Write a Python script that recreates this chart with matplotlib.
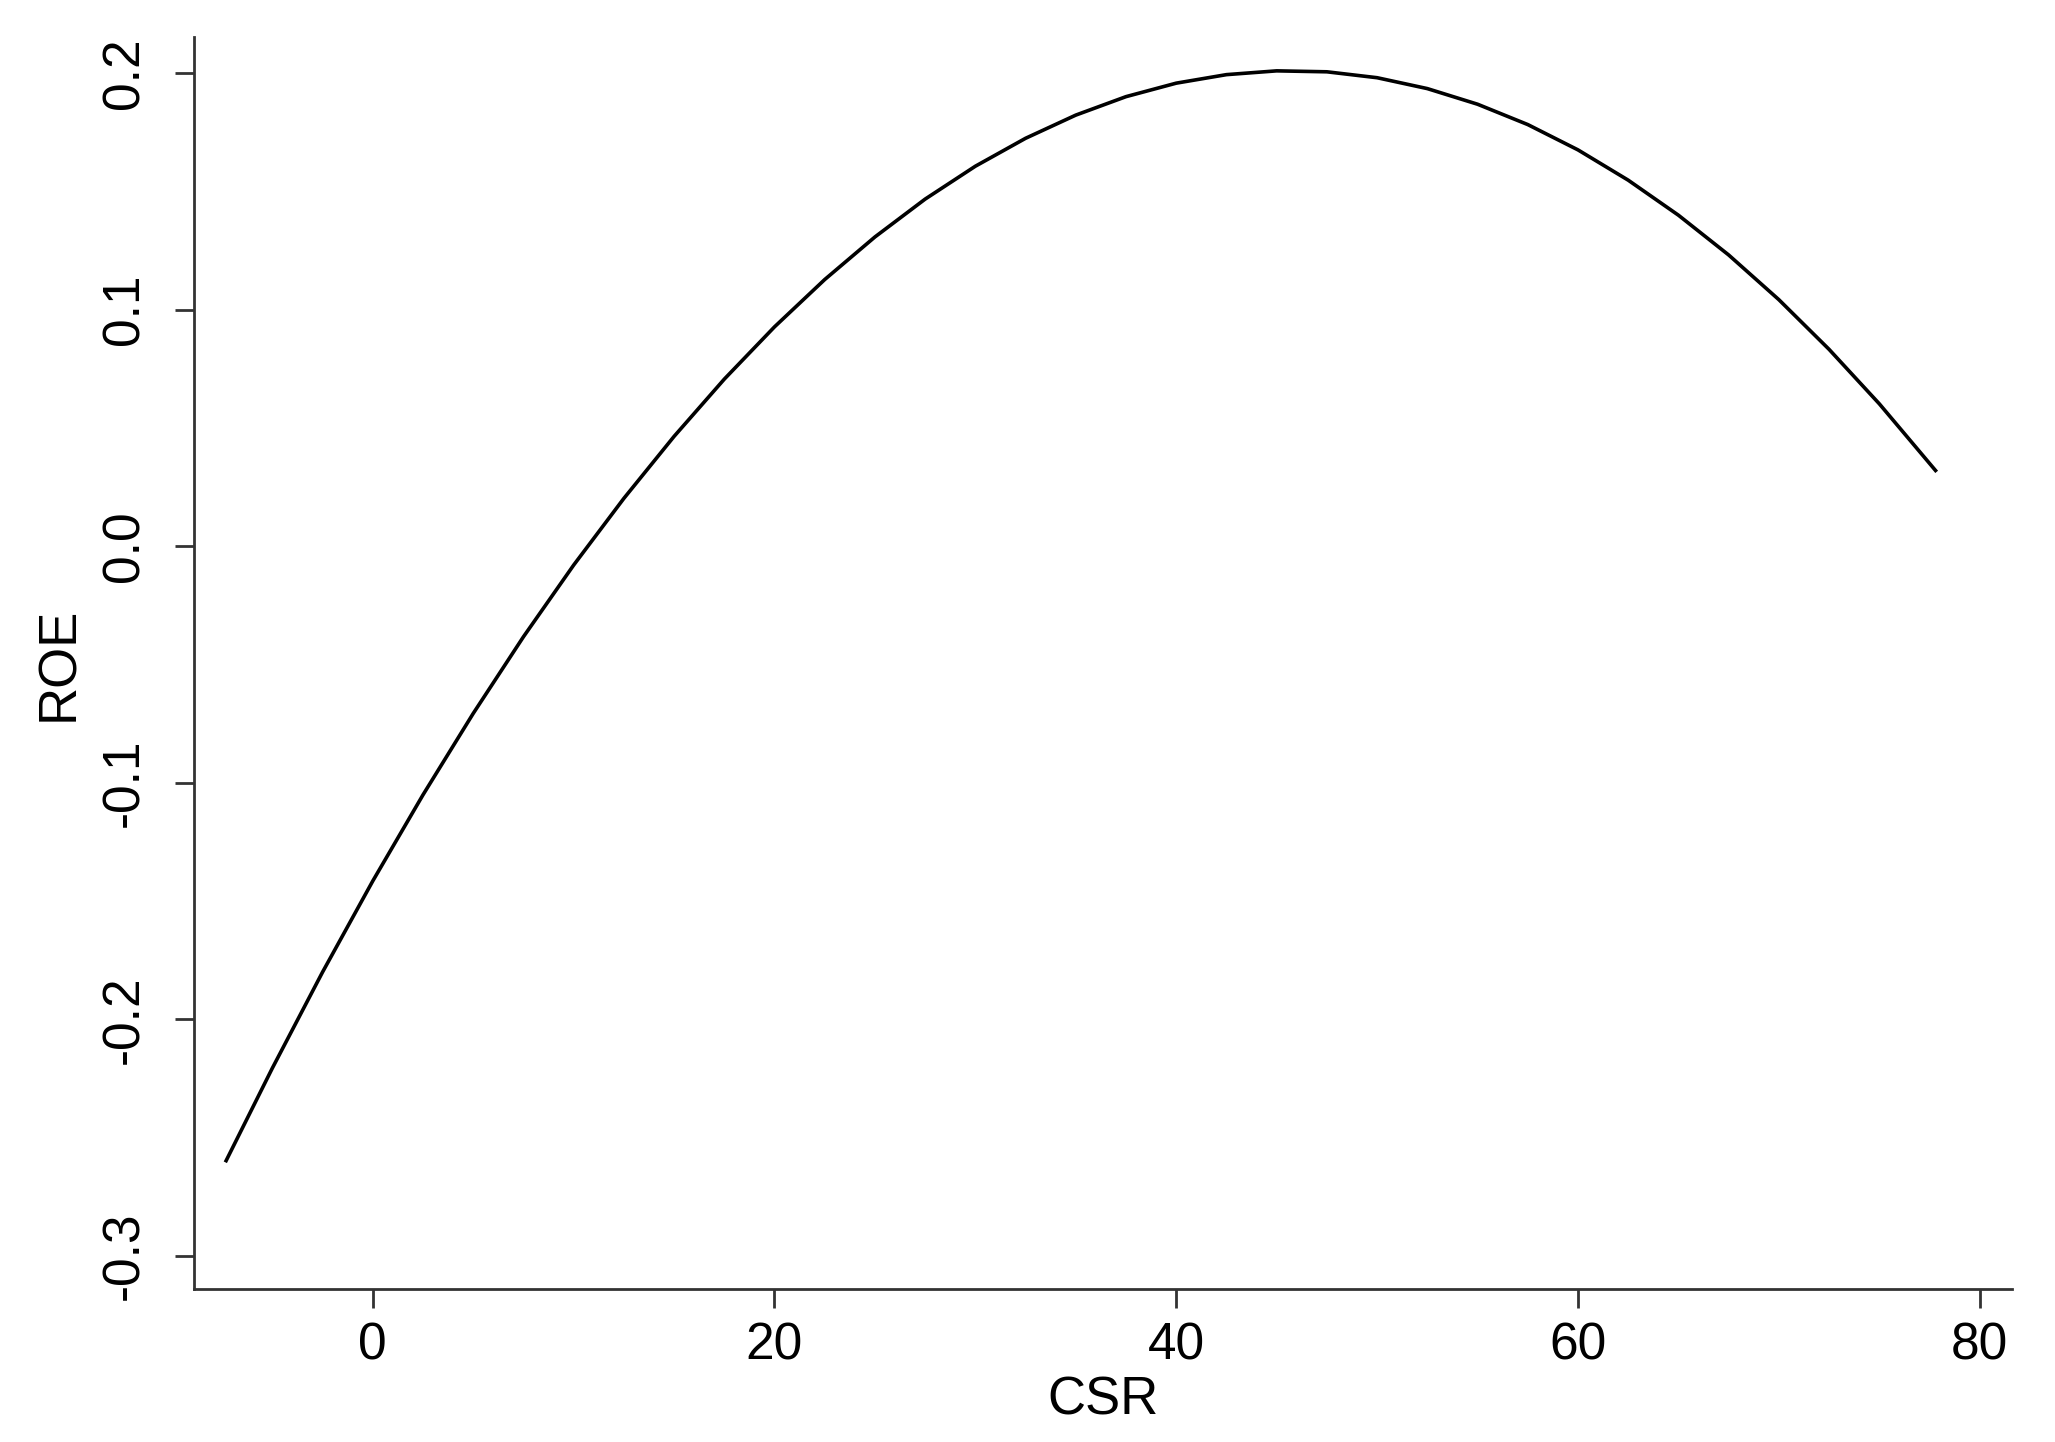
import matplotlib
matplotlib.use("Agg")
import matplotlib.pyplot as plt

# values
csr = [-7.3, -5, -2.5, 0, 2.5, 5, 7.5, 10, 12.5, 15, 17.5, 20, 22.5, 25, 27.5,
       30, 32.5, 35, 37.5, 40, 42.5, 45, 47.5, 50, 52.5, 55, 57.5, 60, 62.5,
       65, 67.5, 70, 72.5, 75, 77.8]
roe = [-0.2597, -0.2206, -0.1800, -0.1415, -0.1051, -0.0707, -0.0383, -0.0080,
       0.0202, 0.0464, 0.0706, 0.0927, 0.1127, 0.1307, 0.1467, 0.1606, 0.1724,
       0.1822, 0.1900, 0.1957, 0.1993, 0.2009, 0.2005, 0.1980, 0.1934, 0.1868,
       0.1782, 0.1675, 0.1547, 0.1399, 0.1231, 0.1042, 0.0832, 0.0602, 0.0320]

x_ticks = [0, 20, 40, 60, 80]
y_ticks = [-0.3, -0.2, -0.1, 0.0, 0.1, 0.2]
y_tick_labels = ["-0.3", "-0.2", "-0.1", "0.0", "0.1", "0.2"]

plt.rcParams['font.family'] = ['Liberation Sans', 'DejaVu Sans']

fig = plt.figure(figsize=(20.55, 14.42), dpi=100)
ax = fig.add_axes([0.0944, 0.106, 0.8846, 0.868])

ax.plot(csr, roe, color='black', linewidth=2.6, solid_joinstyle='round')

ax.set_xlim(-8.9, 81.6)
ax.set_ylim(-0.314, 0.215)
ax.set_xticks(x_ticks)
ax.set_yticks(y_ticks)
ax.set_yticklabels(y_tick_labels)

for s in ['top', 'right']:
    ax.spines[s].set_visible(False)
for s in ['left', 'bottom']:
    ax.spines[s].set_linewidth(2.0)
    ax.spines[s].set_color('#333333')

ax.tick_params(axis='both', length=14, width=2.0, color='#333333', labelsize=37)
ax.tick_params(axis='x', pad=9)
ax.tick_params(axis='y', pad=18)
plt.setp(ax.get_yticklabels(), rotation=90, va='center')

ax.set_xlabel("CSR", fontsize=38, labelpad=4)
ax.set_ylabel("ROE", fontsize=38, labelpad=12)

fig.savefig("out.png", dpi=100, facecolor='white')
